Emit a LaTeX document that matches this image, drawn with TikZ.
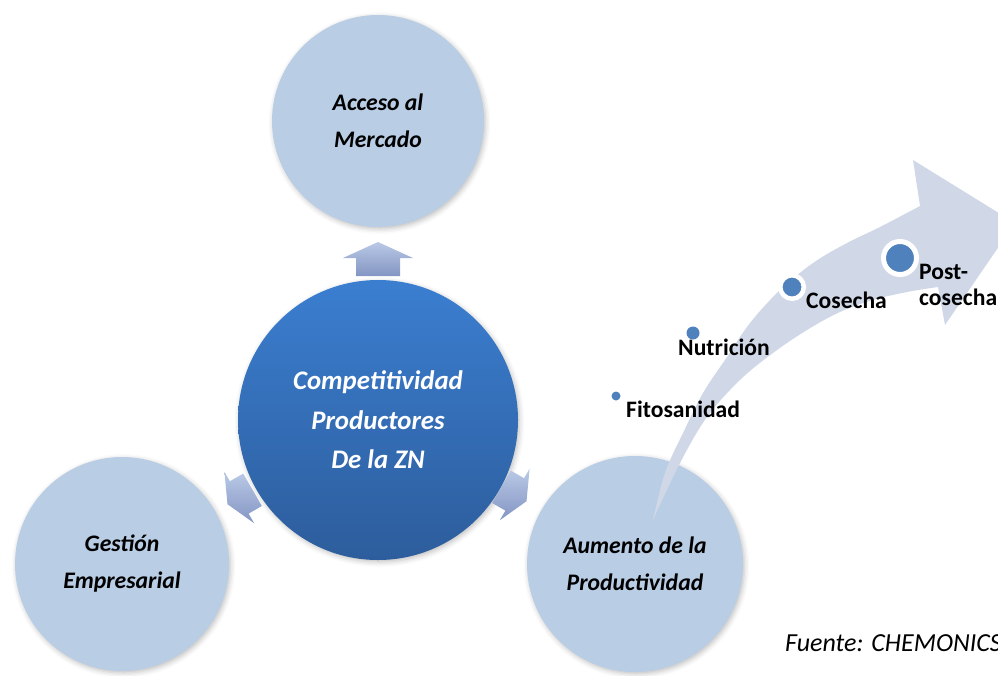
\documentclass[tikz,border=0pt]{standalone}
\usepackage{fontspec}
\setmainfont{Carlito}
\usetikzlibrary{shadows.blur}
\definecolor{outerblue}{HTML}{B9CDE5}
\definecolor{ctop}{HTML}{3B7ED0}
\definecolor{cbot}{HTML}{2D5D9C}
\definecolor{arrtop}{HTML}{BAC9E6}
\definecolor{arrbot}{HTML}{8395C3}
\definecolor{shaftcol}{HTML}{D0D8E8}
\definecolor{dotblue}{HTML}{4F81BD}
\begin{document}
\begin{tikzpicture}[x=1pt,y=-1pt,
  softshadow/.style={blur shadow={shadow xshift=1.5pt, shadow yshift=-2pt, shadow blur radius=5pt, shadow opacity=25}},
  outercirc/.style={circle, fill=outerblue, minimum size=#1, inner sep=0pt, align=center,
    font=\fontsize{23.7}{37}\selectfont\bfseries\itshape, softshadow},
  centercirc/.style={circle, top color=ctop, bottom color=cbot, minimum size=#1, inner sep=0pt, softshadow},
  centertext/.style={align=center, text=white, font=\fontsize{26.8}{39.5}\selectfont\bfseries\itshape},
  blockarr/.pic={\shade[top color=arrtop, bottom color=arrbot]
      (0,-17) -- (35,-1) -- (22,-1) -- (22,17) -- (-22,17) -- (-22,-1) -- (-35,-1) -- cycle;},
  dotnode/.style={circle, fill=dotblue, inner sep=0pt, minimum size=#1},
  ringdot/.style={circle, fill=dotblue, draw=white, inner sep=0pt},
  steplabel/.style={anchor=west, inner sep=0pt, align=left, font=\fontsize{23.6}{26}\selectfont\bfseries},
]
\useasboundingbox (0,0) rectangle (998,675);

% satellite circles
\node[outercirc=212pt] (acceso) at (378,121) {Acceso al\\Mercado};
\node[outercirc=214pt] (gestion) at (122,564) {Gestión\\Empresarial};
\node[outercirc=216pt] (aumento) at (635,564) {Aumento de la\\Productividad};

% centre circle
\node[centercirc=280pt] (centro) at (378,420) {};
\node[centertext] (centrotxt) at (centro) {Competitividad\\Productores\\De la ZN};

% block arrows
\pic at (378,259) {blockarr};
\pic[rotate=120, scale=0.85] at (240,497) {blockarr};
\pic[rotate=-120, scale=0.85] at (514,494) {blockarr};

% curved arrow
\fill[shaftcol] (653,520) -- plot[smooth, tension=0.6] coordinates {
   (653,520) (665,473) (683,433) (703,393) (727,357) (750,323) (780,290)
   (813,263) (847,243) (880,227) (920,206)}
  -- (913,160) -- (1015,223) -- (945,325) -- (938,287)
  -- plot[smooth, tension=0.6] coordinates {
   (938,287) (907,292) (873,300) (840,312) (807,330) (773,353) (740,380)
   (707,417) (680,463) (653,520)} -- cycle;

% dots and labels
\node[dotnode=9pt] (d1) at (616,396) {};
\node[steplabel] (l1) at (626,409) {Fitosanidad};
\node[dotnode=13pt] (d2) at (693,333) {};
\node[steplabel] (l2) at (678,347) {Nutrición};
\node[ringdot, minimum size=23.5pt, line width=4.5pt] (d3) at (792,287) {};
\node[steplabel] (l3) at (806,300) {Cosecha};
\node[ringdot, minimum size=33pt, line width=5pt] (d4) at (900,258) {};
\node[steplabel] (l4) at (919,285) {Post-\\cosecha};

% source
\node[anchor=west, inner sep=0pt, font=\fontsize{26}{29}\selectfont\itshape] (fuente) at (785,643) {Fuente: CHEMONICS};
\end{tikzpicture}
\end{document}
